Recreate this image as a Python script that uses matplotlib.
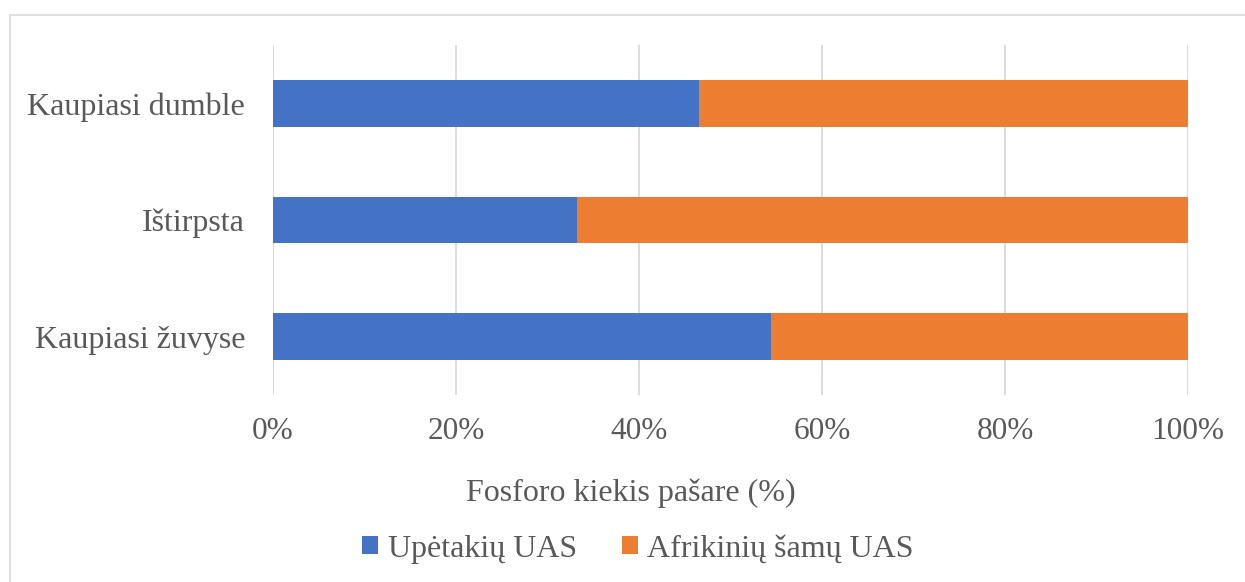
import matplotlib.pyplot as plt
from matplotlib.patches import Rectangle
from matplotlib.ticker import PercentFormatter
import numpy as np

plt.rcParams['font.family'] = ['Liberation Serif', 'DejaVu Serif']

categories = ["Kaupiasi žuvyse", "Ištirpsta", "Kaupiasi dumble"]
upetakiu = [54.4, 33.2, 46.6]
afrikiniu = [45.6, 66.8, 53.4]
series_names = ["Upėtakių UAS", "Afrikinių šamų UAS"]
colors = ["#4472C4", "#ED7D31"]
text_color = "#595959"

fig = plt.figure(figsize=(12.45, 5.82), dpi=100)
ax = fig.add_axes([273 / 1245, 1 - 395 / 582, 915 / 1245, 350 / 582])

# thin frame around the chart area (only left and top edges show in the crop)
fig.patches.append(Rectangle((10 / 1245, -0.1), 1.2, 1.1 - 15 / 582,
                             transform=fig.transFigure, fill=False,
                             edgecolor="#d9d9d9", linewidth=1.2))

y = np.arange(len(categories))
a = np.array(upetakiu)
b = np.array(afrikiniu)
tot = a + b
ax.barh(y, a / tot * 100, height=0.4, color=colors[0], label=series_names[0], zorder=3)
ax.barh(y, b / tot * 100, left=a / tot * 100, height=0.4, color=colors[1],
        label=series_names[1], zorder=3)

ax.set_xlim(0, 100)
ax.set_ylim(-0.5, 2.5)
ax.set_xticks(np.arange(0, 101, 20))
ax.xaxis.set_major_formatter(PercentFormatter(decimals=0))
ax.set_yticks(y)
ax.set_yticklabels(categories)
ax.grid(axis="x", color="#d9d9d9", linewidth=1.3, zorder=0)
ax.tick_params(length=0, colors=text_color)
ax.tick_params(axis="x", pad=16, labelsize=22.5)
ax.tick_params(axis="y", pad=20, labelsize=23)
for s in ax.spines.values():
    s.set_visible(False)

ax.set_xlabel("Fosforo kiekis pašare (%)", fontsize=23, color=text_color)
ax.xaxis.label.set_va("center")
ax.xaxis.set_label_coords((631 - 273) / 915, (395 - 493) / 350)

fig.legend(loc="center", bbox_to_anchor=(638 / 1245, 1 - 549 / 582), ncol=2,
           frameon=False, fontsize=23, labelcolor=text_color, handlelength=0.5,
           handleheight=0.5, handletextpad=0.3, columnspacing=1.4)

fig.savefig("out.png", dpi=100)
